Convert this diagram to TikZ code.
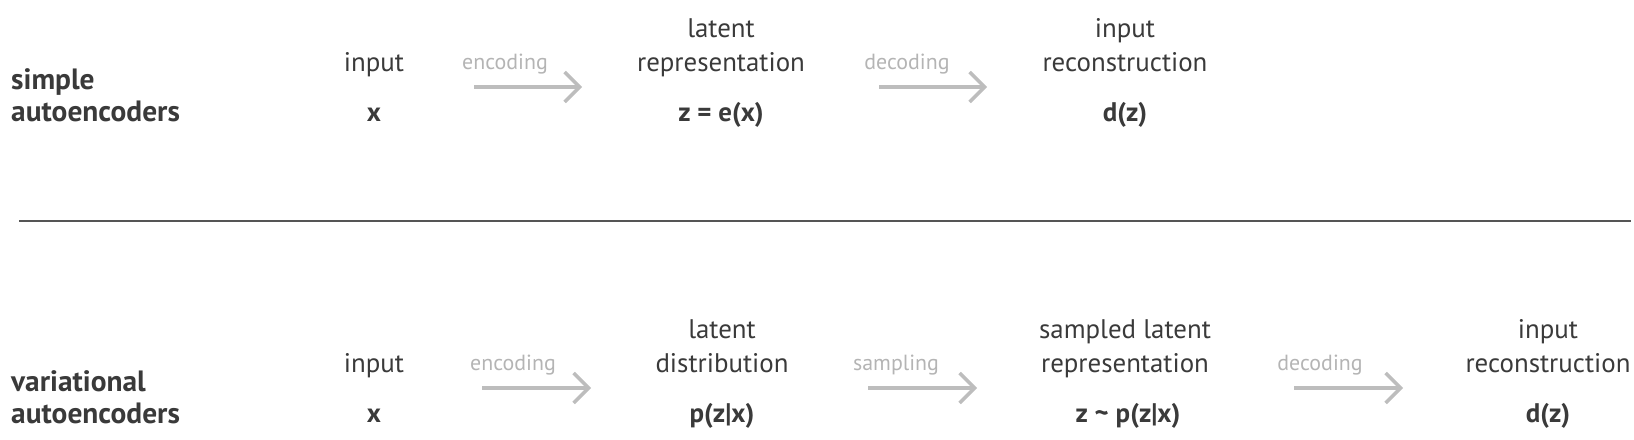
\documentclass[tikz,border=0pt]{standalone}
\usepackage{fontspec}
\setmainfont{PT Sans}
\usetikzlibrary{arrows.meta}
\definecolor{ink}{HTML}{3A3A3A}
\definecolor{soft}{HTML}{B4B4B4}
\definecolor{arrowgray}{HTML}{BDBDBD}
\definecolor{rulegray}{HTML}{555555}
\newcommand{\bigsize}{\fontsize{27}{33}\selectfont}
\newcommand{\kindsize}{\fontsize{29.5}{33}\selectfont}
\newcommand{\smallsize}{\fontsize{22}{26}\selectfont}

\begin{document}
\begin{tikzpicture}[x=1bp,y=-1bp]
	\tikzset{
		term/.style={text=ink, font=\bigsize, inner sep=0pt, anchor=base},
		value/.style={term, font=\bigsize\bfseries},
		kind/.style={term, font=\kindsize\bfseries, anchor=base west},
		verb/.style={text=soft, font=\smallsize, inner sep=0pt, anchor=base},
		flow/.style={draw=arrowgray, line width=3.5bp, -{Straight Barb[length=15bp, width=30bp]}}
	}
	\useasboundingbox (0,0) rectangle (1634,440);
	%\draw[help lines] (0,0) grid[step=50] (1634,440);

	% simple autoencoders
	\node[kind] (simple) at (11,90) {simple};
	\node[kind] (ae1) at (11,122) {autoencoders};
	\node[term] (in1) at (374,72) {input};
	\node[value] (x1) at (374,122) {x};
	\node[verb] (enc1) at (505,70) {encoding};
	\node[term] (lat1) at (721,38) {latent};
	\node[term] (rep1) at (721,72) {representation};
	\node[value] (z1) at (721,122) {z = e(x)};
	\node[verb] (dec1) at (907,70) {decoding};
	\node[term] (inp1) at (1125,38) {input};
	\node[term] (rec1) at (1125,72) {reconstruction};
	\node[value] (d1) at (1125,122) {d(z)};
	\coordinate (e1s) at (474,87);
	\coordinate (e1t) at (582,87);
	\coordinate (d1s) at (879,87);
	\coordinate (d1t) at (987,87);
	\draw[flow] (e1s) -- (e1t);
	\draw[flow] (d1s) -- (d1t);

	% rule
	\coordinate (ruleL) at (19,221);
	\coordinate (ruleR) at (1631,221);
	\draw[rulegray, line width=2bp] (ruleL) -- (ruleR);

	% variational autoencoders
	\node[kind] (vari) at (11,391) {variational};
	\node[kind] (ae2) at (11,423) {autoencoders};
	\node[term] (in2) at (374,373) {input};
	\node[value] (x2) at (374,422) {x};
	\node[verb] (enc2) at (513,371) {encoding};
	\node[term] (lat2) at (722,339) {latent};
	\node[term] (dist2) at (722,373) {distribution};
	\node[value] (p2) at (722,422) {p(z|x)};
	\node[verb] (smp2) at (896,371) {sampling};
	\node[term] (slat2) at (1125,339) {sampled latent};
	\node[term] (rep2) at (1125,373) {representation};
	\node[value] (z2) at (1128,422) {z \textasciitilde{} p(z|x)};
	\node[verb] (dec2) at (1320,371) {decoding};
	\node[term] (inp2) at (1548,339) {input};
	\node[term] (rec2) at (1548,373) {reconstruction};
	\node[value] (d2) at (1548,422) {d(z)};
	\coordinate (e2s) at (482,388);
	\coordinate (e2t) at (591,388);
	\coordinate (s2s) at (868,388);
	\coordinate (s2t) at (977,388);
	\coordinate (d2s) at (1294,388);
	\coordinate (d2t) at (1403,388);
	\draw[flow] (e2s) -- (e2t);
	\draw[flow] (s2s) -- (s2t);
	\draw[flow] (d2s) -- (d2t);
\end{tikzpicture}
\end{document}
